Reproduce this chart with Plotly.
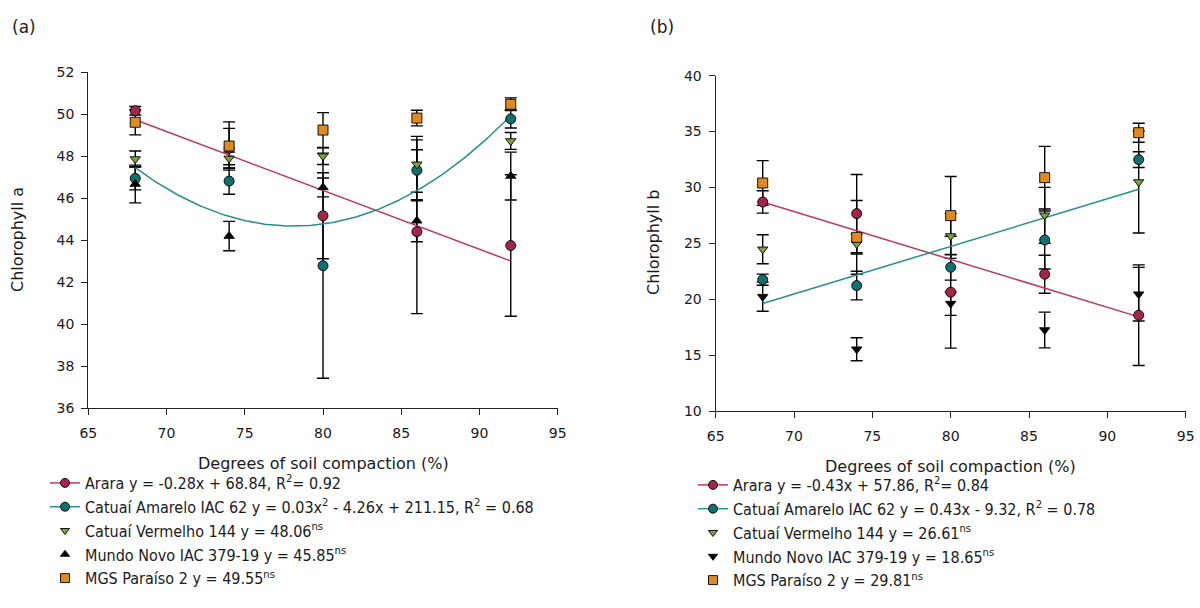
import numpy as np
import plotly.graph_objects as go

# ---------------- data ----------------
compaction = [68, 74, 80, 86, 92]

# Panel (a) chlorophyll a : means and error (+/-)
a_arara = [50.17, 48.38, 45.17, 44.41, 43.75]
a_arara_err = [0.2, 0.95, 2.05, 3.9, 3.37]
a_amarelo = [46.95, 46.82, 42.79, 47.33, 49.78]
a_amarelo_err = [0.55, 0.63, 5.36, 1.45, 0.43]
a_vermelho = [47.87, 47.9, 48.01, 47.62, 48.73]
a_vermelho_err = [0.38, 0.3, 0.4, 1.33, 0.4]
a_mundo = [46.68, 44.2, 46.52, 44.93, 47.06]
a_mundo_err = [0.9, 0.7, 0.45, 1.0, 1.14]
a_mgs = [49.62, 48.49, 49.25, 49.82, 50.48]
a_mgs_err = [0.6, 1.15, 0.83, 0.37, 0.3]

# Panel (b) chlorophyll b
b_arara = [28.7, 27.66, 20.63, 22.24, 18.57]
b_arara_err = [1.0, 3.5, 5.0, 1.7, 4.5]
b_amarelo = [21.75, 21.22, 22.86, 25.3, 32.49]
b_amarelo_err = [0.5, 1.28, 1.15, 2.6, 0.7]
b_vermelho = [24.47, 24.95, 25.66, 27.51, 30.49]
b_vermelho_err = [1.3, 0.9, 2.0, 2.5, 4.56]
b_mundo = [20.23, 15.53, 19.61, 17.25, 20.45]
b_mundo_err = [1.3, 1.03, 1.05, 1.6, 2.4]
b_mgs = [30.4, 25.54, 27.48, 30.88, 34.9]
b_mgs_err = [2.0, 3.3, 3.5, 2.8, 0.85]

legend_a = [
    "Arara y = -0.28x + 68.84, R<sup>2</sup>= 0.92",
    "Catuaí Amarelo IAC 62 y = 0.03x<sup>2</sup> - 4.26x + 211.15, R<sup>2</sup> = 0.68",
    "Catuaí Vermelho 144 y = 48.06<sup>ns</sup>",
    "Mundo Novo IAC 379-19 y = 45.85<sup>ns</sup>",
    "MGS Paraíso 2 y = 49.55<sup>ns</sup>",
]
legend_b = [
    "Arara y = -0.43x + 57.86, R<sup>2</sup>= 0.84",
    "Catuaí Amarelo IAC 62 y = 0.43x - 9.32, R<sup>2</sup> = 0.78",
    "Catuaí Vermelho 144 y = 26.61<sup>ns</sup>",
    "Mundo Novo IAC 379-19 y = 18.65<sup>ns</sup>",
    "MGS Paraíso 2 y = 29.81<sup>ns</sup>",
]

# ---------------- styles ----------------
C_ARARA = "#A3264A"
C_ARARA_LINE = "#BC3A5C"
C_AMAR = "#10706E"
C_AMAR_LINE = "#26908E"
C_VERM = "#7BA23F"
C_MUNDO = "#000000"
C_MGS = "#DE8A1F"
FONT = "DejaVu Sans"
TXT = "#1a1a1a"

fig = go.Figure()


def add_panel(xa, ya, series, fits, legname, names):
    # error bars first (under markers)
    for vals, errs, color, sym in series:
        fig.add_trace(go.Scatter(
            x=compaction, y=vals, mode="markers", xaxis=xa, yaxis=ya,
            marker=dict(size=1, color="rgba(0,0,0,0)"),
            error_y=dict(type="data", array=errs, visible=True,
                         color="#000000", thickness=1.4, width=6),
            showlegend=False, hoverinfo="skip"))
    # fitted trend lines
    for vals, deg, color in fits:
        coef = np.polyfit(compaction, vals, deg)
        xs = np.linspace(compaction[0], compaction[-1], 120)
        fig.add_trace(go.Scatter(
            x=xs, y=np.polyval(coef, xs), mode="lines", xaxis=xa, yaxis=ya,
            line=dict(color=color, width=1.5), showlegend=False,
            hoverinfo="skip"))
    # markers
    for vals, errs, color, sym in series:
        fig.add_trace(go.Scatter(
            x=compaction, y=vals, mode="markers", xaxis=xa, yaxis=ya,
            marker=dict(size=10 if sym in ("circle", "square") else 9,
                        color=color, symbol=sym,
                        line=dict(color="#000000", width=0.9)),
            showlegend=False))
    # legend entries
    for i, (vals, errs, color, sym) in enumerate(series):
        lc = fits[i][2] if i < len(fits) else None
        fig.add_trace(go.Scatter(
            x=[None], y=[None], xaxis=xa, yaxis=ya,
            mode="lines+markers" if lc else "markers",
            line=dict(color=lc or color, width=1.5),
            marker=dict(size=9 if sym in ("circle", "square") else 8,
                        color=color, symbol=sym,
                        line=dict(color="#000000", width=0.9)),
            name=names[i], legend=legname, showlegend=True))


add_panel("x", "y",
          [(a_arara, a_arara_err, C_ARARA, "circle"),
           (a_amarelo, a_amarelo_err, C_AMAR, "circle"),
           (a_vermelho, a_vermelho_err, C_VERM, "triangle-down"),
           (a_mundo, a_mundo_err, C_MUNDO, "triangle-up"),
           (a_mgs, a_mgs_err, C_MGS, "square")],
          [(a_arara, 1, C_ARARA_LINE), (a_amarelo, 2, C_AMAR_LINE)],
          "legend", legend_a)

add_panel("x2", "y2",
          [(b_arara, b_arara_err, C_ARARA, "circle"),
           (b_amarelo, b_amarelo_err, C_AMAR, "circle"),
           (b_vermelho, b_vermelho_err, C_VERM, "triangle-down"),
           (b_mundo, b_mundo_err, C_MUNDO, "triangle-down"),
           (b_mgs, b_mgs_err, C_MGS, "square")],
          [(b_arara, 1, C_ARARA_LINE), (b_amarelo, 1, C_AMAR_LINE)],
          "legend2", legend_b)

# figure fills the whole window (page margin removed below)
W, H = 1200, 608


def px(v):
    return v / W


def py(v):
    return 1 - v / H


axis_common = dict(showline=True, linecolor="#222222", linewidth=1.3,
                   ticks="outside", ticklen=6, tickwidth=1.2,
                   tickcolor="#222222", showgrid=False, zeroline=False,
                   tickfont=dict(family=FONT, size=14, color=TXT),
                   fixedrange=True, automargin=False)

fig.update_layout(
    width=W, height=H,
    margin=dict(l=0, r=0, t=0, b=0, pad=0, autoexpand=False),
    paper_bgcolor="white", plot_bgcolor="white",
    font=dict(family=FONT, size=14, color=TXT),
    xaxis=dict(domain=[px(88.3), px(557.7)], range=[65, 95], dtick=5,
               anchor="y", ticklabelstandoff=6, **axis_common),
    yaxis=dict(domain=[py(408.3), py(72.3)], range=[36, 52],
               dtick=2, anchor="x", ticklabelstandoff=4, **axis_common),
    xaxis2=dict(domain=[px(715.7), px(1185.7)], range=[65, 95], dtick=5,
                anchor="y2", ticklabelstandoff=6, **axis_common),
    yaxis2=dict(domain=[py(411), py(75.7)], range=[10, 40],
                dtick=5, anchor="x2", ticklabelstandoff=4, **axis_common),
    legend=dict(x=px(45), y=py(466), xanchor="left", yanchor="top",
                font=dict(family="DejaVu Sans Condensed", size=16, color=TXT),
                bgcolor="rgba(0,0,0,0)", tracegroupgap=0, itemwidth=30),
    legend2=dict(x=px(693), y=py(468), xanchor="left", yanchor="top",
                 font=dict(family="DejaVu Sans Condensed", size=16, color=TXT),
                 bgcolor="rgba(0,0,0,0)", tracegroupgap=0, itemwidth=30),
    showlegend=True,
)

annots = [
    dict(text="(a)", x=px(24), y=py(27)),
    dict(text="(b)", x=px(662), y=py(27)),
    dict(text="Chlorophyll a", x=px(17), y=py(240), textangle=-90),
    dict(text="Chlorophyll b", x=px(653), y=py(243), textangle=-90),
    dict(text="Degrees of soil compaction (%)", x=px(323), y=py(463)),
    dict(text="Degrees of soil compaction (%)", x=px(950), y=py(466)),
]
for a in annots:
    fig.add_annotation(xref="paper", yref="paper", showarrow=False,
                       xanchor="center", yanchor="middle",
                       font=dict(family=FONT, size=17 if a["text"].startswith("(") else 16,
                                 color=TXT), **a)

fig.write_html(
    "out.html",
    config={"displayModeBar": False},
    post_script=("document.documentElement.style.margin='0';"
                 "document.body.style.margin='0';"
                 "document.body.style.overflow='hidden';"),
)
